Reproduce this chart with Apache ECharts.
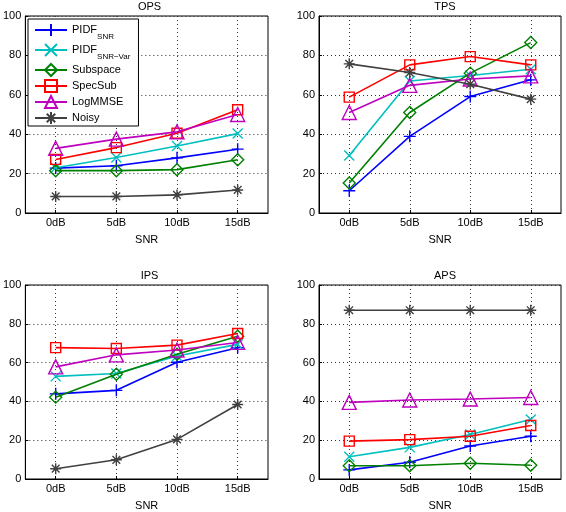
<!DOCTYPE html>
<html><head><meta charset="utf-8">
<script src="https://cdn.jsdelivr.net/npm/echarts@6/dist/echarts.min.js"></script>
<style>html,body{margin:0;padding:0;background:#fff}#c{width:566px;height:512px}</style>
</head><body><div id="c"></div>
<script>
const categories = ['0dB', '5dB', '10dB', '15dB'];
const yTicks = [0, 20, 40, 60, 80, 100];
const panelTitles = ['OPS', 'TPS', 'IPS', 'APS'];
const methods = ['PIDF_SNR', 'PIDF_SNR-Var', 'Subspace', 'SpecSub', 'LogMMSE', 'Noisy'];

// OPS
const opsPidfSnr    = [22.8, 24.0, 28.0, 32.4];
const opsPidfSnrVar = [23.0, 28.2, 34.0, 40.3];
const opsSubspace   = [21.5, 21.5, 22.0, 27.0];
const opsSpecSub    = [27.2, 33.2, 40.5, 52.4];
const opsLogMMSE    = [32.8, 37.5, 41.2, 50.0];
const opsNoisy      = [8.4, 8.4, 9.2, 11.7];
// TPS
const tpsPidfSnr    = [11.3, 38.9, 59.1, 67.6];
const tpsPidfSnrVar = [29.2, 67.0, 69.8, 73.0];
const tpsSubspace   = [15.2, 51.0, 71.0, 86.5];
const tpsSpecSub    = [58.8, 75.2, 79.4, 75.2];
const tpsLogMMSE    = [51.0, 64.8, 68.0, 69.6];
const tpsNoisy      = [75.7, 71.3, 65.4, 57.8];
// IPS
const ipsPidfSnr    = [43.9, 45.7, 60.2, 67.7];
const ipsPidfSnrVar = [52.9, 54.4, 63.4, 69.4];
const ipsSubspace   = [42.2, 54.0, 64.3, 73.6];
const ipsSpecSub    = [67.7, 67.3, 69.0, 75.0];
const ipsLogMMSE    = [57.8, 64.0, 66.5, 70.4];
const ipsNoisy      = [5.3, 9.9, 20.4, 38.4];
// APS
const apsPidfSnr    = [4.7, 8.6, 17.0, 22.0];
const apsPidfSnrVar = [11.5, 16.3, 22.9, 30.7];
const apsSubspace   = [6.8, 6.8, 8.1, 7.1];
const apsSpecSub    = [19.5, 20.3, 22.0, 27.6];
const apsLogMMSE    = [39.5, 40.7, 41.2, 42.0];
const apsNoisy      = [87.0, 87.0, 87.0, 87.0];

const panelData = [
  [opsPidfSnr, opsPidfSnrVar, opsSubspace, opsSpecSub, opsLogMMSE, opsNoisy],
  [tpsPidfSnr, tpsPidfSnrVar, tpsSubspace, tpsSpecSub, tpsLogMMSE, tpsNoisy],
  [ipsPidfSnr, ipsPidfSnrVar, ipsSubspace, ipsSpecSub, ipsLogMMSE, ipsNoisy],
  [apsPidfSnr, apsPidfSnrVar, apsSubspace, apsSpecSub, apsLogMMSE, apsNoisy]
];

const colors = ['#0000ff', '#00bfbf', '#008000', '#ff0000', '#bf00bf', '#404040'];
const symbols = [
  'path://M0,5L10,5M5,0L5,10',
  'path://M0,0L10,10M10,0L0,10',
  'diamond',
  'rect',
  'triangle',
  'path://M0,5L10,5M5,0L5,10M1.5,1.5L8.5,8.5M8.5,1.5L1.5,8.5'
];
const symbolSizes = [12, 10, 12, 10, 14, 11];

const grids = [
  {left: 21, top: 16, width: 247, height: 197},
  {left: 319, top: 16, width: 242, height: 197},
  {left: 21, top: 285, width: 247, height: 196},
  {left: 319, top: 285, width: 242, height: 197}
];

const font = 'Liberation Sans, Arial, sans-serif';
const option = {
  animation: false,
  backgroundColor: '#fff',
  textStyle: {fontFamily: font},
  title: grids.map((g, i) => ({
    text: panelTitles[i],
    left: g.left + g.width / 2,
    top: g.top - 20,
    textAlign: 'center',
    textStyle: {fontSize: 11, fontWeight: 'normal', color: '#000', fontFamily: font}
  })),
  grid: grids.map(g => Object.assign({show: true, borderColor: '#000', borderWidth: 1, backgroundColor: 'transparent', containLabel: false}, g)),
  xAxis: grids.map((g, i) => ({
    type: 'category',
    gridIndex: i,
    data: categories,
    boundaryGap: true,
    name: 'SNR',
    nameLocation: 'middle',
    nameGap: 21,
    nameTextStyle: {fontSize: 11, color: '#000', fontFamily: font},
    axisLine: {show: true, lineStyle: {color: '#000', width: 1}},
    axisTick: {show: true, inside: true, alignWithLabel: true, length: 3, lineStyle: {color: '#000'}},
    axisLabel: {fontSize: 11, color: '#000', margin: 4, fontFamily: font},
    splitLine: {show: true, alignWithLabel: true, lineStyle: {color: '#333', type: [1, 3], width: 1}}
  })),
  yAxis: grids.map((g, i) => ({
    type: 'value',
    gridIndex: i,
    min: yTicks[0],
    max: yTicks[yTicks.length - 1],
    interval: yTicks[1] - yTicks[0],
    axisLine: {show: true, lineStyle: {color: '#000', width: 1}},
    axisTick: {show: true, inside: true, length: 3, lineStyle: {color: '#000'}},
    axisLabel: {fontSize: 11, color: '#000', margin: 4, fontFamily: font},
    splitLine: {show: true, lineStyle: {color: '#333', type: [1, 3], width: 1}}
  })),
  legend: {
    show: true,
    data: methods,
    orient: 'vertical',
    left: 28,
    top: 19,
    width: 109,
    padding: [4, 8, 1, 6],
    itemGap: 2,
    itemWidth: 32,
    itemHeight: 15,
    backgroundColor: '#fff',
    borderColor: '#000',
    borderWidth: 1,
    borderRadius: 0,
    inactiveColor: '#000',
    formatter: function (name) {
      if (name === 'PIDF_SNR') return '{m|PIDF}{s|SNR}';
      if (name === 'PIDF_SNR-Var') return '{m|PIDF}{s|SNR\u2212Var}';
      return '{m|' + name + '}';
    },
    textStyle: {
      color: '#000', fontSize: 11, fontFamily: font,
      rich: {
        m: {fontSize: 11, color: '#000', fontFamily: font},
        s: {fontSize: 8, color: '#000', fontFamily: font, padding: [14, 0, 0, 0]}
      }
    }
  },
  series: []
};

panelData.forEach((arr, p) => {
  arr.forEach((vals, m) => {
    option.series.push({
      type: 'line',
      name: methods[m],
      xAxisIndex: p,
      yAxisIndex: p,
      data: vals,
      symbol: symbols[m],
      symbolSize: symbolSizes[m],
      showAllSymbol: true,
      lineStyle: {color: colors[m], width: 1.6},
      itemStyle: {color: 'rgba(255,255,255,0)', borderColor: colors[m], borderWidth: 1.4},
      emphasis: {disabled: true},
      z: 2 + m
    });
  });
});

const chart = echarts.init(document.getElementById('c'), null, {renderer: 'canvas'});
chart.setOption(option);
</script></body></html>
